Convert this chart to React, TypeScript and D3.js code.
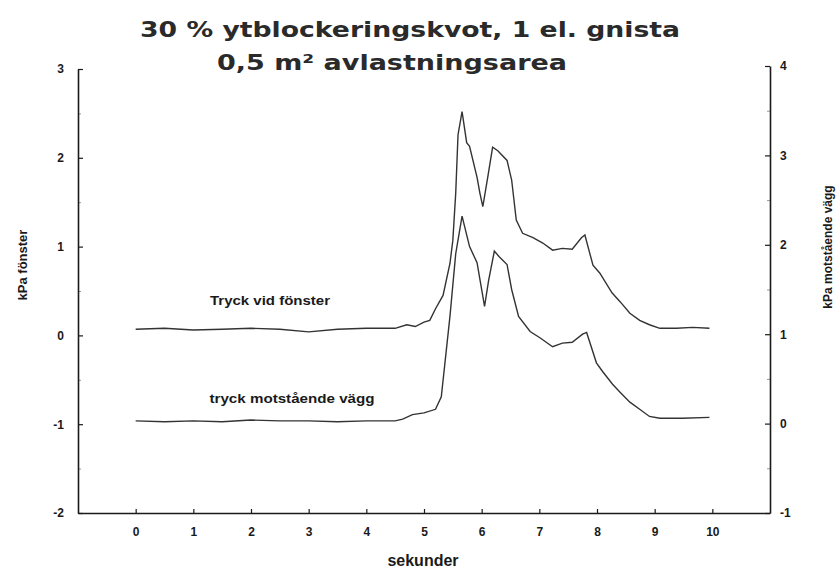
import { useEffect, useRef } from "react";
import * as d3 from "d3";

const titleLines = ["30 % ytblockeringskvot, 1 el. gnista", "0,5 m² avlastningsarea"];
const xTicks = [0, 1, 2, 3, 4, 5, 6, 7, 8, 9, 10];
const leftTicks = [-2, -1, 0, 1, 2, 3];
const rightTicks = [-1, 0, 1, 2, 3, 4];

// [sekunder, kPa]
const fonsterSeries: [number, number][] = [
  [0, 0.07], [0.5, 0.08], [1, 0.06], [1.5, 0.07], [2, 0.08], [2.5, 0.07], [3, 0.04], [3.5, 0.07],
  [4, 0.08], [4.5, 0.08], [4.7, 0.12], [4.85, 0.1], [5.0, 0.15], [5.1, 0.17], [5.2, 0.3], [5.33, 0.45],
  [5.45, 0.81], [5.5, 1.07], [5.55, 1.6], [5.59, 2.26], [5.66, 2.52], [5.74, 2.17], [5.79, 2.13],
  [5.92, 1.78], [5.97, 1.6], [6.02, 1.45], [6.11, 1.8], [6.19, 2.12], [6.28, 2.08], [6.44, 1.97],
  [6.52, 1.75], [6.6, 1.3], [6.71, 1.15], [6.89, 1.1], [7.06, 1.04], [7.23, 0.96], [7.4, 0.98],
  [7.57, 0.97], [7.73, 1.1], [7.79, 1.13], [7.93, 0.79], [8.05, 0.7], [8.26, 0.48], [8.4, 0.38],
  [8.57, 0.25], [8.74, 0.17], [8.91, 0.12], [9.09, 0.08], [9.38, 0.08], [9.66, 0.09], [9.95, 0.08],
];

const vaggSeries: [number, number][] = [
  [0, 0.03], [0.5, 0.02], [1, 0.03], [1.5, 0.02], [2, 0.04], [2.5, 0.03], [3, 0.03], [3.5, 0.02],
  [4, 0.03], [4.5, 0.03], [4.63, 0.05], [4.8, 0.1], [5.0, 0.12], [5.2, 0.16], [5.3, 0.3], [5.45, 1.2],
  [5.55, 1.9], [5.66, 2.32], [5.79, 1.98], [5.92, 1.8], [6.05, 1.31], [6.12, 1.6], [6.22, 1.93],
  [6.3, 1.87], [6.44, 1.78], [6.52, 1.5], [6.64, 1.2], [6.84, 1.03], [7.01, 0.96], [7.23, 0.86],
  [7.4, 0.9], [7.57, 0.91], [7.75, 1.0], [7.82, 1.02], [7.99, 0.68], [8.1, 0.58], [8.27, 0.44],
  [8.4, 0.35], [8.57, 0.24], [8.74, 0.16], [8.91, 0.08], [9.09, 0.06], [9.48, 0.06], [9.95, 0.07],
];

export default function App() {
  const chartRef = useRef<SVGSVGElement>(null);

  useEffect(() => {
    if (!chartRef.current) return;
    const svg = d3.select(chartRef.current);
    svg.selectAll("*").remove();

    const width = 839;
    const height = 581;
    const left = 78;
    const right = 770;
    const bottom = 513;

    const x = d3.scaleLinear().domain([-1, 11]).range([left, right]);
    const yL = d3.scaleLinear().domain([-2, 3]).range([bottom, 69]);
    const yR = d3.scaleLinear().domain([-1, 4]).range([bottom, 66]);

    svg.attr("viewBox", [0, 0, width, height]).attr("width", width).attr("height", height);
    svg.append("rect").attr("width", width).attr("height", height).attr("fill", "#fff");

    const font = "'Liberation Sans', Arial, sans-serif";
    const ink = "#1a1a1a";

    // minor ticks
    svg.append("g")
      .attr("transform", `translate(${left},0)`)
      .call(d3.axisLeft(yL).tickValues([-1.5, -0.5, 0.5, 1.5, 2.5]).tickSize(-3).tickFormat(() => ""))
      .call(g => g.select(".domain").remove())
      .selectAll("line").attr("stroke", "#999");
    svg.append("g")
      .attr("transform", `translate(${right},0)`)
      .call(d3.axisRight(yR).tickValues([-0.5, 0.5, 1.5, 2.5, 3.5]).tickSize(-3).tickFormat(() => ""))
      .call(g => g.select(".domain").remove())
      .selectAll("line").attr("stroke", "#999");

    const fmt = (d: d3.NumberValue) => String(d);

    // left axis
    const gl = svg.append("g")
      .attr("transform", `translate(${left},0)`)
      .call(d3.axisLeft(yL).tickValues(leftTicks).tickFormat(fmt).tickSize(-5).tickSizeOuter(0).tickPadding(14));
    // right axis
    const gr = svg.append("g")
      .attr("transform", `translate(${right},0)`)
      .call(d3.axisRight(yR).tickValues(rightTicks).tickFormat(fmt).tickSize(-5).tickSizeOuter(0).tickPadding(10));
    // bottom axis
    const gb = svg.append("g")
      .attr("transform", `translate(0,${bottom})`)
      .call(d3.axisBottom(x).tickValues(xTicks).tickFormat(fmt).tickSize(-4).tickSizeOuter(0).tickPadding(14));

    [gl, gr, gb].forEach(g => {
      g.select(".domain").attr("stroke", ink).attr("stroke-width", 1.6);
      g.selectAll(".tick line").attr("stroke", ink).attr("stroke-width", 1.2);
      g.selectAll(".tick text")
        .attr("fill", ink)
        .style("font-family", font)
        .style("font-size", "12px")
        .style("font-weight", "bold");
    });

    // traces
    const lineL = d3.line<[number, number]>().x(d => x(d[0])).y(d => yL(d[1]));
    const lineR = d3.line<[number, number]>().x(d => x(d[0])).y(d => yR(d[1]));

    svg.append("path")
      .datum(fonsterSeries)
      .attr("fill", "none")
      .attr("stroke", "#333")
      .attr("stroke-width", 1.4)
      .attr("d", lineL);

    svg.append("path")
      .datum(vaggSeries)
      .attr("fill", "none")
      .attr("stroke", "#333")
      .attr("stroke-width", 1.4)
      .attr("d", lineR);

    // title
    const titleCx = [410, 392];
    const titleLen = [540, 350];
    const titleY = [37, 70];
    svg.append("g")
      .selectAll("text")
      .data(titleLines)
      .join("text")
      .attr("x", (_, i) => titleCx[i])
      .attr("y", (_, i) => titleY[i])
      .attr("text-anchor", "middle")
      .attr("textLength", (_, i) => titleLen[i])
      .attr("lengthAdjust", "spacingAndGlyphs")
      .attr("fill", "#2a2a2a")
      .style("font-family", "'DejaVu Sans', sans-serif")
      .style("font-size", "22px")
      .style("font-weight", "bold")
      .text(d => d);

    // series labels
    svg.append("text")
      .attr("x", 270).attr("y", 305)
      .attr("text-anchor", "middle")
      .attr("textLength", 120)
      .attr("lengthAdjust", "spacingAndGlyphs")
      .attr("fill", ink)
      .style("font-family", font).style("font-size", "12px").style("font-weight", "bold")
      .text("Tryck vid fönster");
    svg.append("text")
      .attr("x", 292).attr("y", 403)
      .attr("text-anchor", "middle")
      .attr("textLength", 165)
      .attr("lengthAdjust", "spacingAndGlyphs")
      .attr("fill", ink)
      .style("font-family", font).style("font-size", "12px").style("font-weight", "bold")
      .text("tryck motstående vägg");

    // axis titles
    svg.append("text")
      .attr("x", 423).attr("y", 566)
      .attr("text-anchor", "middle")
      .attr("fill", ink)
      .style("font-family", font).style("font-size", "16px").style("font-weight", "bold")
      .text("sekunder");
    svg.append("text")
      .attr("transform", "translate(27,265) rotate(-90)")
      .attr("text-anchor", "middle")
      .attr("fill", ink)
      .style("font-family", font).style("font-size", "13px").style("font-weight", "bold")
      .text("kPa fönster");
    svg.append("text")
      .attr("transform", "translate(832,247) rotate(-90)")
      .attr("text-anchor", "middle")
      .attr("fill", ink)
      .style("font-family", font).style("font-size", "12px").style("font-weight", "bold")
      .text("kPa motstående vägg");
  }, []);

  return (
    <svg ref={chartRef} style={{ position: "absolute", left: 0, top: 0 }}></svg>
  );
}
